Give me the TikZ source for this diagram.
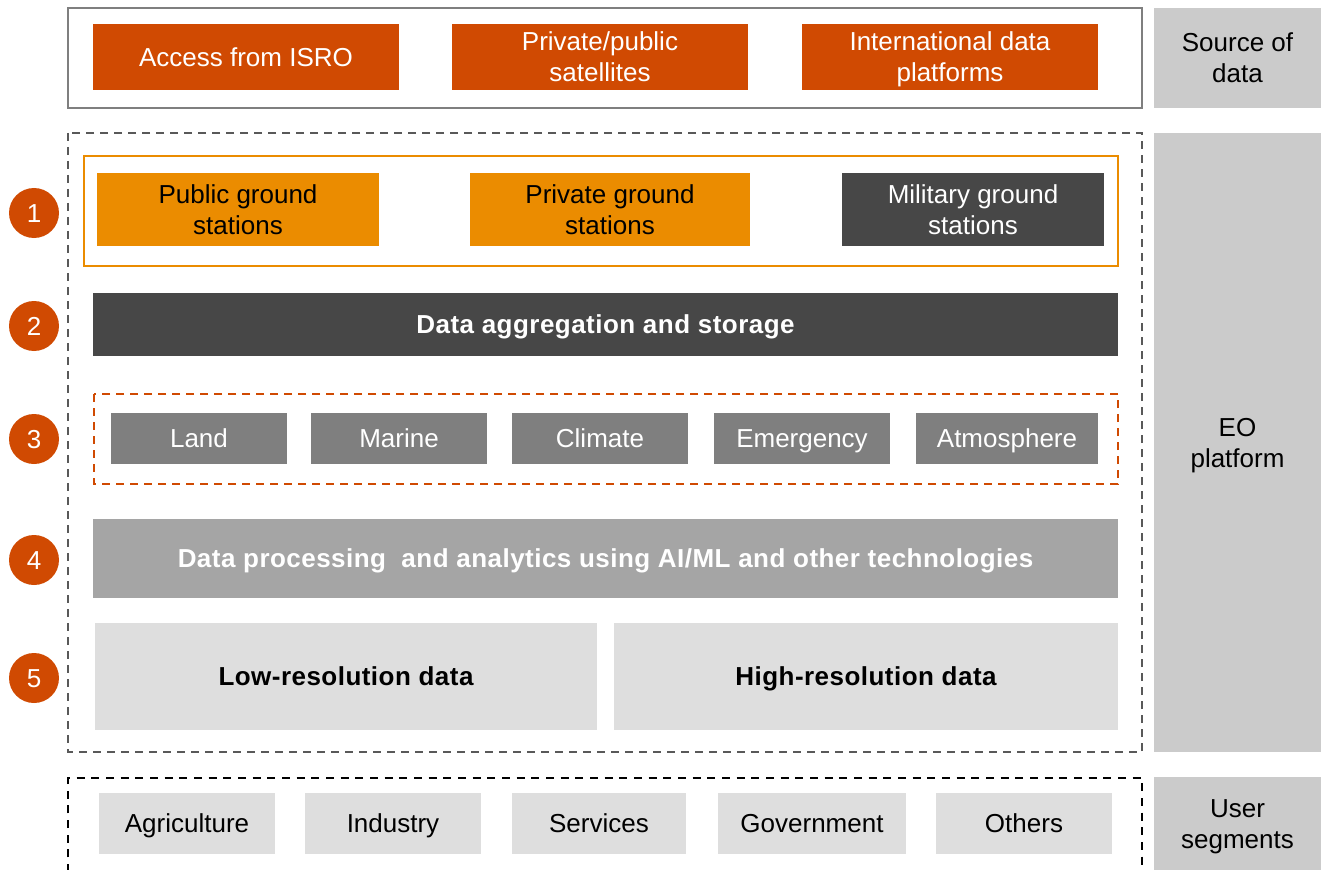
\documentclass[tikz,border=0pt]{standalone}
\usepackage{fontspec}
\setmainfont{Liberation Sans}
\definecolor{pwcred}{HTML}{D04A02}
\definecolor{pwcor}{HTML}{EB8C00}
\definecolor{dgray}{HTML}{474747}
\definecolor{mgray}{HTML}{7F7F7F}
\definecolor{lgray}{HTML}{A5A5A5}
\definecolor{vlgray}{HTML}{DEDEDE}
\definecolor{panel}{HTML}{CBCBCB}
\definecolor{dashgray}{HTML}{595959}
\newcommand\bx[7][]{\node[base, #1, minimum width={(#5-#3)*0.75pt}, minimum height={(#6-#4)*0.75pt}] (#2) at ({(#3+#5)/2},{(#4+#6)/2}) {\sttop #7\stbot};}
\newcommand\sttop{\rule{0pt}{20pt}}
\newcommand\stbot{\rule[-6pt]{0pt}{6pt}}
\newcommand\bodyfont{\fontsize{19.5}{23.3}\selectfont}
\newcommand\boldfont{\fontsize{19.5}{23.3}\selectfont\bfseries\addfontfeatures{LetterSpace=1.8}}
\begin{document}
\begin{tikzpicture}[x=0.75pt,y=-0.75pt,
  base/.style={inner sep=0pt, outer sep=0pt, align=center, font=\bodyfont},
  red/.style={fill=pwcred, text=white},
  orng/.style={fill=pwcor, text=black},
  dark/.style={fill=dgray, text=white},
  mid/.style={fill=mgray, text=white},
  light/.style={fill=lgray, text=white, font=\boldfont},
  pale/.style={fill=vlgray, text=black},
  side/.style={fill=panel, text=black},
  num/.style={circle, fill=pwcred, text=white, minimum size=37.5pt, inner sep=0pt, font=\bodyfont},
  eobox/.style={draw=dashgray, line width=1.5pt, dash pattern=on 6pt off 4.5pt},
  usrbox/.style={draw=black, line width=1.5pt, dash pattern=on 6pt off 5pt},
]
\useasboundingbox (0,0) rectangle (1321,870);
% source of data
\draw[draw=mgray, line width=1.5pt] (68,8) rectangle (1142,108);
\bx[red]{isro}{93}{24}{399}{90}{Access from ISRO}
\bx[red]{sat}{452}{24}{748}{90}{Private/public\\satellites}
\bx[red]{intl}{802}{24}{1098}{90}{International data\\platforms}
% side panels
\bx[side]{src}{1154}{8}{1321}{108}{Source of\\data}
\bx[side]{eo}{1154}{133}{1321}{752}{EO\\platform}
\bx[side]{usr}{1154}{777}{1321}{870}{User\\segments}
% EO platform
\draw[eobox] (68,133) rectangle (1142,752);
\draw[draw=pwcor, line width=1.5pt] (84,156) rectangle (1118,266);
\bx[orng]{pub}{97}{173}{379}{246}{Public ground\\stations}
\bx[orng]{priv}{470}{173}{750}{246}{Private ground\\stations}
\bx[dark]{mil}{842}{173}{1104}{246}{Military ground\\stations}
\bx[dark, font=\boldfont]{agg}{93}{293}{1118}{356}{Data aggregation and storage}
\draw[draw=pwcred, line width=1.5pt, dash pattern=on 6pt off 4.5pt] (94,394) rectangle (1118,484);
\bx[mid]{land}{111}{413}{287}{464}{Land}
\bx[mid]{marine}{311}{413}{487}{464}{Marine}
\bx[mid]{climate}{512}{413}{688}{464}{Climate}
\bx[mid]{emerg}{714}{413}{890}{464}{Emergency}
\bx[mid]{atmos}{916}{413}{1098}{464}{Atmosphere}
\bx[light]{proc}{93}{519}{1118}{598}{Data processing\ \ and analytics using AI/ML and other technologies}
\bx[pale, font=\boldfont]{low}{95}{623}{597}{730}{Low-resolution data}
\bx[pale, font=\boldfont]{high}{614}{623}{1118}{730}{High-resolution data}
% numbers
\node[num] (n1) at (34,213) {\sttop 1\stbot};
\node[num] (n2) at (34,326) {\sttop 2\stbot};
\node[num] (n3) at (34,439) {\sttop 3\stbot};
\node[num] (n4) at (34,560) {\sttop 4\stbot};
\node[num] (n5) at (34,678) {\sttop 5\stbot};
% user segments
\draw[usrbox] (68,872) -- (68,778) -- (1142,778) -- (1142,872);
\bx[pale]{agri}{99}{793}{275}{854}{Agriculture}
\bx[pale]{ind}{305}{793}{481}{854}{Industry}
\bx[pale]{serv}{512}{793}{686}{854}{Services}
\bx[pale]{gov}{718}{793}{906}{854}{Government}
\bx[pale]{oth}{936}{793}{1112}{854}{Others}
\end{tikzpicture}
\end{document}
